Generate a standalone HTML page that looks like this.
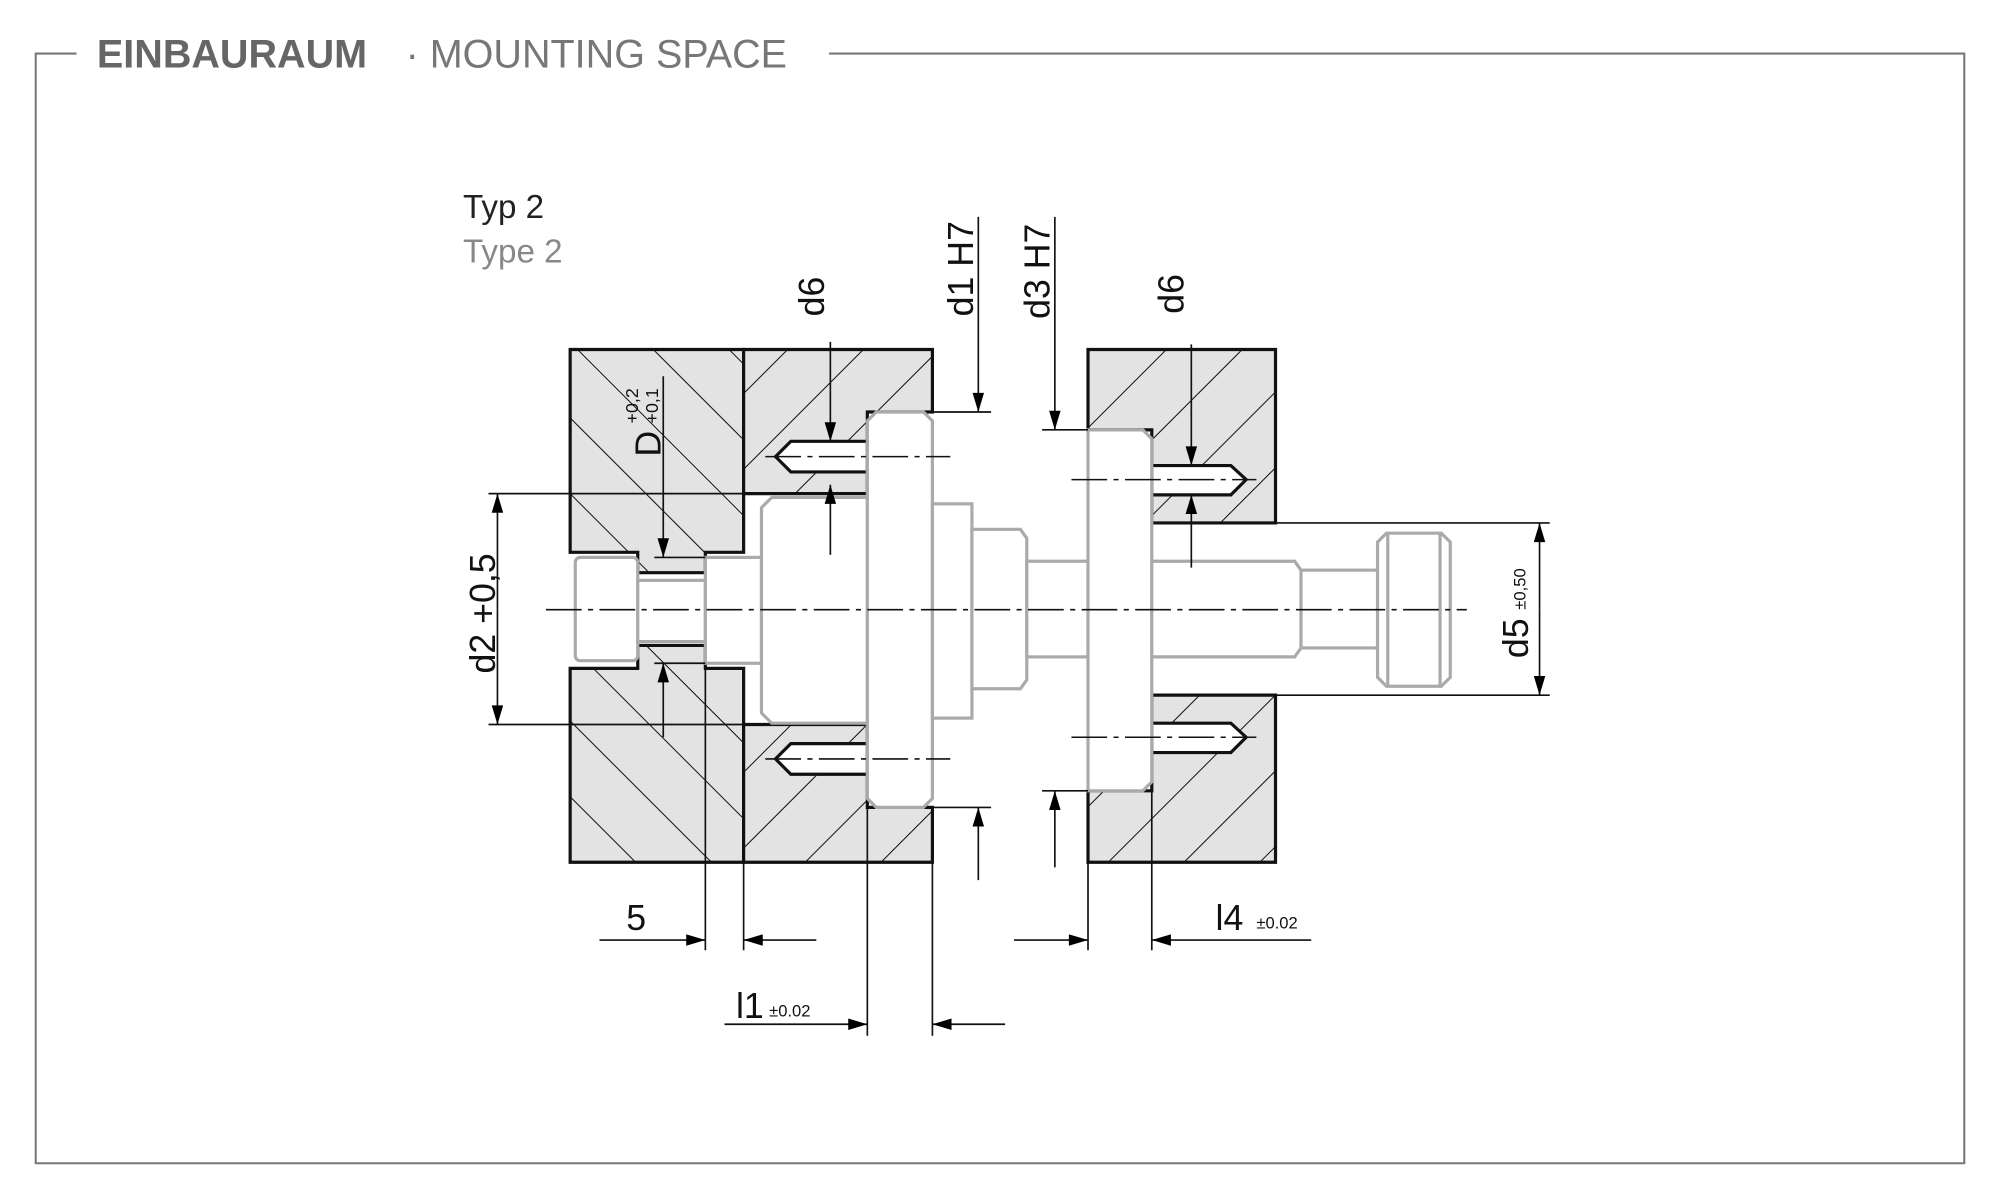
<!DOCTYPE html>
<html><head><meta charset="utf-8"><style>
html,body{margin:0;padding:0;background:#fff;}
svg{display:block}
text{font-family:"Liberation Sans",sans-serif;}
</style></head><body>
<svg width="2000" height="1200" viewBox="0 0 1568 940.8" preserveAspectRatio="none" xmlns="http://www.w3.org/2000/svg">
<defs>
<pattern id="hb" patternUnits="userSpaceOnUse" width="42" height="42" patternTransform="rotate(45)">
<rect width="42" height="42" fill="#e3e3e3"/><line x1="0" y1="0" x2="0" y2="42" stroke="#111" stroke-width="1.6"/></pattern>
<pattern id="hf" patternUnits="userSpaceOnUse" width="42" height="42" patternTransform="rotate(-45)">
<rect width="42" height="42" fill="#e3e3e3"/><line x1="0" y1="0" x2="0" y2="42" stroke="#111" stroke-width="1.6"/></pattern>
<marker id="ar" viewBox="0 0 10 6" refX="10" refY="3" markerWidth="20" markerHeight="9" markerUnits="userSpaceOnUse" orient="auto"><path d="M0,0L10,3L0,6z" fill="#000"/></marker>
</defs>
<g stroke="#777" stroke-width="1.6" fill="none">
<path d="M60,42 H28 V912 H1540 V42 H650"/>
</g>
<text x="76" y="53" font-size="31" font-weight="bold" fill="#666">EINBAURAUM</text>
<text x="318" y="53" font-size="31" fill="#777">· MOUNTING SPACE</text>
<text x="363" y="171" font-size="26" fill="#222">Typ 2</text>
<text x="363" y="206" font-size="26" fill="#888">Type 2</text>

<g stroke="#111" stroke-width="2.5">
<path d="M447,274 H583 V433 H553 V449 H500 V433 H447 Z" fill="url(#hf)"/>
<path d="M447,524 H500 V506 H553 V524 H583 V676 H447 Z" fill="url(#hf)"/>
<path d="M583,274 H731 V323 H680 V387 H583 Z" fill="url(#hb)"/>
<path d="M583,568 H680 V633 H731 V676 H583 Z" fill="url(#hb)"/>
<path d="M853,274 H1000 V410 H903 V337 H853 Z" fill="url(#hb)"/>
<path d="M853,620 H903 V545 H1000 V676 H853 Z" fill="url(#hb)"/>
</g>
<g stroke="#111" stroke-width="2.5" fill="#fff">
<path d="M680,346 H620 L608,358 L620,370 H680Z"/>
<path d="M680,583 H620 L608,595 L620,607 H680Z"/>
<path d="M903,365 H965 L977,376 L965,388 H903Z"/>
<path d="M903,567 H965 L977,578 L965,590 H903Z"/>
</g>
<g stroke="#aaa" stroke-width="2.5" fill="#fff">
<rect x="451" y="437" width="49" height="81" rx="4"/>
<rect x="500" y="455" width="53" height="48"/>
<rect x="553" y="437" width="44" height="83"/>
<path d="M605,390 H680 V567 H605 L597,559 V398Z"/>
<path d="M687,323 H724 L731,330 V626 L724,633 H687 L680,626 V330Z"/>
<rect x="731" y="395" width="31" height="168"/>
<path d="M762,415 H800 L805,422 V533 L800,540 H762Z"/>
<rect x="805" y="440" width="48" height="75"/>
<path d="M853,337 H896 L903,344 V613 L896,620 H853Z"/>
<path d="M903,440 H1015 L1020,447 V508 L1015,515 H903Z"/>
<rect x="1020" y="447" width="60" height="61"/>
<path d="M1087,418 H1130 L1137,425 V531 L1130,538 H1087 L1080,531 V425Z"/>
<line x1="1088" y1="418" x2="1088" y2="538"/><line x1="1129" y1="418" x2="1129" y2="538"/>
</g>
<g stroke="#111" stroke-width="1.2" stroke-dasharray="28,5,4,5" fill="none">
<line x1="428" y1="478" x2="1150" y2="478"/>
<line x1="600" y1="358" x2="745" y2="358"/>
<line x1="600" y1="595" x2="745" y2="595"/>
<line x1="840" y1="376" x2="985" y2="376"/>
<line x1="840" y1="578" x2="985" y2="578"/>
</g>
<g stroke="#111" stroke-width="1.3" fill="none">
<line x1="383" y1="387" x2="583" y2="387"/>
<line x1="383" y1="568" x2="583" y2="568"/>
<line x1="390" y1="478" x2="390" y2="387" marker-end="url(#ar)"/>
<line x1="390" y1="478" x2="390" y2="568" marker-end="url(#ar)"/>
<line x1="520" y1="295" x2="520" y2="437" marker-end="url(#ar)"/>
<line x1="520" y1="578" x2="520" y2="520" marker-end="url(#ar)"/>
<line x1="513" y1="437" x2="553" y2="437"/><line x1="513" y1="520" x2="553" y2="520"/>
<line x1="651" y1="268" x2="651" y2="346" marker-end="url(#ar)"/>
<line x1="651" y1="435" x2="651" y2="380" marker-end="url(#ar)"/>
<line x1="767" y1="170" x2="767" y2="323" marker-end="url(#ar)"/>
<line x1="767" y1="690" x2="767" y2="633" marker-end="url(#ar)"/>
<line x1="731" y1="323" x2="777" y2="323"/><line x1="731" y1="633" x2="777" y2="633"/>
<line x1="827" y1="170" x2="827" y2="337" marker-end="url(#ar)"/>
<line x1="827" y1="680" x2="827" y2="620" marker-end="url(#ar)"/>
<line x1="817" y1="337" x2="853" y2="337"/><line x1="817" y1="620" x2="853" y2="620"/>
<line x1="934" y1="270" x2="934" y2="365" marker-end="url(#ar)"/>
<line x1="934" y1="445" x2="934" y2="388" marker-end="url(#ar)"/>
<line x1="1000" y1="410" x2="1215" y2="410"/><line x1="1000" y1="545" x2="1215" y2="545"/>
<line x1="1207" y1="478" x2="1207" y2="410" marker-end="url(#ar)"/>
<line x1="1207" y1="478" x2="1207" y2="545" marker-end="url(#ar)"/>
<line x1="553" y1="524" x2="553" y2="745"/><line x1="583" y1="676" x2="583" y2="745"/>
<line x1="470" y1="737" x2="553" y2="737" marker-end="url(#ar)"/>
<line x1="640" y1="737" x2="583" y2="737" marker-end="url(#ar)"/>
<line x1="680" y1="633" x2="680" y2="812"/><line x1="731" y1="676" x2="731" y2="812"/>
<line x1="568" y1="803" x2="680" y2="803" marker-end="url(#ar)"/>
<line x1="788" y1="803" x2="731" y2="803" marker-end="url(#ar)"/>
<line x1="853" y1="676" x2="853" y2="745"/><line x1="903" y1="620" x2="903" y2="745"/>
<line x1="795" y1="737" x2="853" y2="737" marker-end="url(#ar)"/>
<line x1="1028" y1="737" x2="903" y2="737" marker-end="url(#ar)"/>
</g>
<g fill="#111" font-size="28">
<text transform="translate(388,528) rotate(-90)">d2 +0,5</text>
<text transform="translate(518,358) rotate(-90)">D</text>
<text transform="translate(500,332) rotate(-90)" font-size="14">+0,2</text>
<text transform="translate(516,332) rotate(-90)" font-size="14">+0,1</text>
<text transform="translate(646,248) rotate(-90)">d6</text>
<text transform="translate(763,248) rotate(-90)">d1 H7</text>
<text transform="translate(823,250) rotate(-90)">d3 H7</text>
<text transform="translate(928,246) rotate(-90)">d6</text>
<text transform="translate(1198,516) rotate(-90)">d5</text>
<text transform="translate(1196,478) rotate(-90)" font-size="13">±0,50</text>
<text x="491" y="729">5</text>
<text x="577" y="798">l1</text><text x="603" y="797" font-size="13">±0.02</text>
<text x="953" y="729">l4</text><text x="985" y="728" font-size="13">±0.02</text>
</g>
</svg>
</body></html>
